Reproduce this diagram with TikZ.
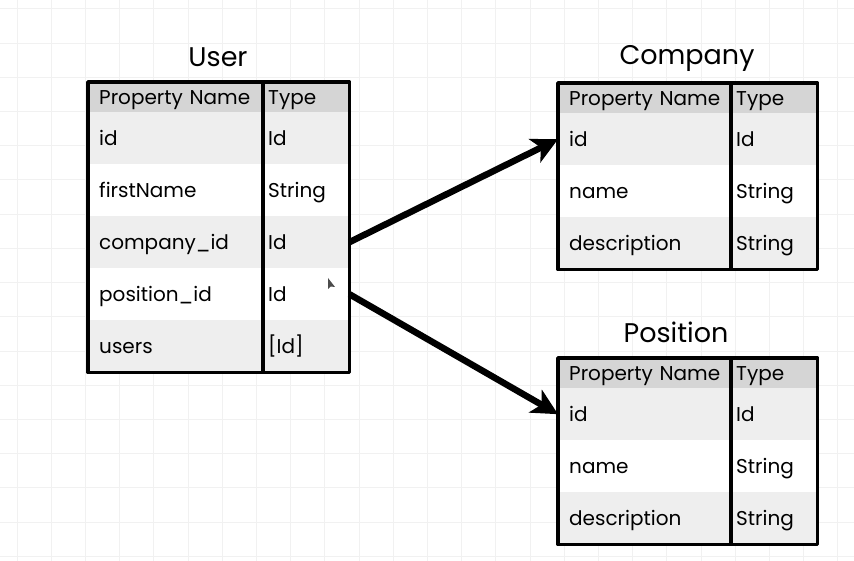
\documentclass[tikz,border=0pt]{standalone}
\usepackage{fontspec}
\setmainfont{Poppins}
\usetikzlibrary{arrows.meta}
\definecolor{gridc}{HTML}{F1F1F1}
\definecolor{hdr}{HTML}{D5D5D5}
\definecolor{rowg}{HTML}{EEEEEE}
\begin{document}
\begin{tikzpicture}[x=1pt,y=-1pt,
  cellbase/.style={rectangle, inner ysep=0pt, anchor=north west, font=\fontsize{20}{22}\selectfont, align=left, text height=16pt, text depth=2pt},
  ncell/.style={cellbase, minimum height=52pt, text width=#1, inner xsep=11pt},
  tcell/.style={cellbase, minimum height=52pt, text width=#1, inner xsep=5pt},
  nhead/.style={ncell=#1, minimum height=30pt, fill=hdr},
  thead/.style={tcell=#1, minimum height=30pt, fill=hdr},
  title/.style={font=\fontsize{27}{30}\selectfont, inner sep=0pt},
  border/.style={line width=3.5pt, draw=black, line join=round},
  gridline/.style={draw=gridc, line width=1pt},
  conn/.style={line width=6.5pt, draw=black, -{Stealth[length=26pt,width=26pt,inset=7pt]}}
]
\useasboundingbox (0,0) rectangle (854,561);
\fill[white] (0,0) rectangle (854,561);
\foreach \i in {0,...,24} \draw[gridline] ({17+34.2*\i},0) -- ({17+34.2*\i},561);
\foreach \j in {0,...,16} \draw[gridline] (0,{9+34.2*\j}) -- (854,{9+34.2*\j});

% ---------- User ----------
\node[title] (ut) at (218,57) {User};
\node[nhead=153pt] (uh1) at (88,82) {\mbox{Property Name}};
\node[thead=76pt] (uh2) at (263,82) {Type};
\node[ncell=153pt, fill=rowg] (u1n) at (88,112) {id};
\node[tcell=76pt, fill=rowg] (u1t) at (263,112) {Id};
\node[ncell=153pt, fill=white] (u2n) at (88,164) {firstName};
\node[tcell=76pt, fill=white] (u2t) at (263,164) {String};
\node[ncell=153pt, fill=rowg] (u3n) at (88,216) {company\_id};
\node[tcell=76pt, fill=rowg] (u3t) at (263,216) {Id};
\node[ncell=153pt, fill=white] (u4n) at (88,268) {position\_id};
\node[tcell=76pt, fill=white] (u4t) at (263,268) {Id};
\node[ncell=153pt, fill=rowg] (u5n) at (88,320) {users};
\node[tcell=76pt, fill=rowg] (u5t) at (263,320) {[Id]};
\draw[border] (uh1.north west) rectangle (u5t.south east);
\draw[border] (uh2.north west) -- (u5t.south west);

% ---------- Company ----------
\node[title] (ct) at (687,58) {Company};
\node[nhead=151pt] (ch1) at (558,83) {\mbox{Property Name}};
\node[thead=76pt] (ch2) at (731,83) {Type};
\node[ncell=151pt, fill=rowg] (c1n) at (558,113) {id};
\node[tcell=76pt, fill=rowg] (c1t) at (731,113) {Id};
\node[ncell=151pt, fill=white] (c2n) at (558,165) {name};
\node[tcell=76pt, fill=white] (c2t) at (731,165) {String};
\node[ncell=151pt, fill=rowg] (c3n) at (558,217) {description};
\node[tcell=76pt, fill=rowg] (c3t) at (731,217) {String};
\draw[border] (ch1.north west) rectangle (c3t.south east);
\draw[border] (ch2.north west) -- (c3t.south west);

% ---------- Position ----------
\node[title] (pt) at (676,332) {Position};
\node[nhead=151pt] (ph1) at (558,358) {\mbox{Property Name}};
\node[thead=76pt] (ph2) at (731,358) {Type};
\node[ncell=151pt, fill=rowg] (p1n) at (558,388) {id};
\node[tcell=76pt, fill=rowg] (p1t) at (731,388) {Id};
\node[ncell=151pt, fill=white] (p2n) at (558,440) {name};
\node[tcell=76pt, fill=white] (p2t) at (731,440) {String};
\node[ncell=151pt, fill=rowg] (p3n) at (558,492) {description};
\node[tcell=76pt, fill=rowg] (p3t) at (731,492) {String};
\draw[border] (ph1.north west) rectangle (p3t.south east);
\draw[border] (ph2.north west) -- (p3t.south west);

% ---------- connectors ----------
\draw[conn] (u3t.east) -- (c1n.west);
\draw[conn] (u4t.east) -- (p1n.west);

% cursor
\fill[black!70] (328,278) -- (328,289) -- (330.5,286.5) -- (335,287) -- cycle;
\end{tikzpicture}
\end{document}
